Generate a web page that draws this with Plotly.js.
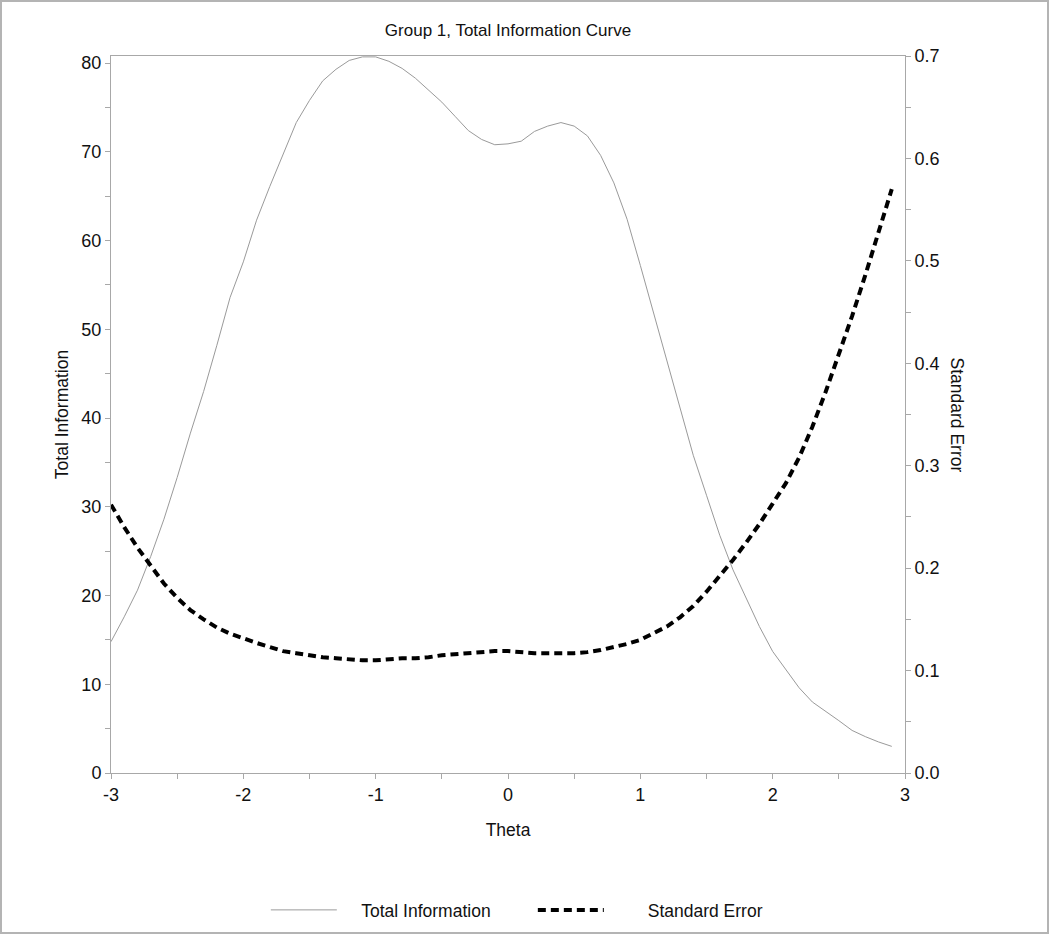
<!DOCTYPE html>
<html>
<head>
<meta charset="utf-8">
<script src="https://cdn.plot.ly/plotly-3.0.1.min.js"></script>
<style>
html,body{margin:0;padding:0;background:#fff;}
#wrap{position:relative;width:1050px;height:937px;}
#chart{position:absolute;left:0;top:0;width:1050px;height:937px;}
#frame{position:absolute;left:0;top:0;width:1049px;height:934px;box-sizing:border-box;border:2px solid #b4b4b4;pointer-events:none;}
</style>
</head>
<body>
<div id="wrap"><div id="chart"></div><div id="frame"></div></div>
<script>
// Data
var theta = [-3.0,-2.9,-2.8,-2.7,-2.6,-2.5,-2.4,-2.3,-2.2,-2.1,
             -2.0,-1.9,-1.8,-1.7,-1.6,-1.5,-1.4,-1.3,-1.2,-1.1,
             -1.0,-0.9,-0.8,-0.7,-0.6,-0.5,-0.4,-0.3,-0.2,-0.1,
              0.0, 0.1, 0.2, 0.3, 0.4, 0.5, 0.6, 0.7, 0.8, 0.9,
              1.0, 1.1, 1.2, 1.3, 1.4, 1.5, 1.6, 1.7, 1.8, 1.9,
              2.0, 2.1, 2.2, 2.3, 2.4, 2.5, 2.6, 2.7, 2.8, 2.9];
var totalInformation = [14.8,17.6,20.6,24.4,28.6,33.3,38.3,43.0,48.2,53.6,
                        57.6,62.3,66.1,69.8,73.3,75.8,78.0,79.3,80.3,80.7,
                        80.7,80.2,79.4,78.3,77.0,75.6,74.0,72.4,71.4,70.8,
                        70.9,71.2,72.3,72.9,73.3,72.9,71.8,69.6,66.5,62.4,
                        57.2,51.8,46.3,41.0,35.8,31.3,26.8,22.9,19.6,16.5,
                        13.7,11.6,9.6,8.0,7.0,5.9,4.8,4.1,3.5,3.0];
var standardError = [0.262,0.240,0.220,0.202,0.185,0.171,0.159,0.150,0.142,0.136,
                     0.131,0.127,0.123,0.119,0.117,0.115,0.113,0.112,0.111,0.110,
                     0.110,0.111,0.112,0.112,0.113,0.115,0.116,0.117,0.118,0.119,
                     0.119,0.118,0.117,0.117,0.117,0.117,0.118,0.120,0.123,0.126,
                     0.130,0.136,0.143,0.152,0.163,0.177,0.192,0.208,0.225,0.243,
                     0.263,0.283,0.308,0.338,0.372,0.408,0.446,0.486,0.527,0.570];
var xTickVals = [-3,-2,-1,0,1,2,3];
var xTickText = ['-3','-2','-1','0','1','2','3'];
var seriesNames = ['Total Information','Standard Error'];
var chartTitle = 'Group 1, Total Information Curve';
var xTitle = 'Theta';
var yTitle = 'Total Information';
var y2Title = 'Standard Error';

var axisColor = '#a8a8a8';
var fontFam = 'Liberation Sans, Arial, sans-serif';
var gap1 = '\u00a0\u00a0\u00a0\u00a0';
var gap2 = '\u00a0\u00a0\u00a0\u00a0\u00a0\u00a0\u00a0\u00a0';

var traces = [
  {x: theta, y: totalInformation, name: gap1 + seriesNames[0], type: 'scatter', mode: 'lines',
   line: {color: '#9a9a9a', width: 1}, xaxis: 'x', yaxis: 'y'},
  {x: theta, y: standardError, name: gap2 + seriesNames[1], type: 'scatter', mode: 'lines',
   line: {color: '#000000', width: 4, dash: '8px,5px'}, xaxis: 'x', yaxis: 'y2'}
];

var tickFont = {family: fontFam, size: 18, color: '#111'};
var layout = {
  width: 1050, height: 937,
  margin: {l: 111, r: 145, t: 56, b: 164, autoexpand: false},
  paper_bgcolor: 'rgba(0,0,0,0)', plot_bgcolor: '#ffffff',
  font: {family: fontFam, color: '#111'},
  title: {text: chartTitle, font: {family: fontFam, size: 17, color: '#111'},
          x: 508/1050, xanchor: 'center', y: 1 - 30/937, yanchor: 'middle', yref: 'container'},
  showlegend: true,
  legend: {orientation: 'h', x: 0.195, xanchor: 'left', y: 1 - 910/937, yanchor: 'middle', yref: 'container',
           font: {family: fontFam, size: 17.5, color: '#111'}, itemwidth: 66,
           entrywidth: 186, entrywidthmode: 'pixels', bgcolor: 'rgba(0,0,0,0)'},
  xaxis: {range: [-3, 3], tickvals: xTickVals, ticktext: xTickText, ticks: 'outside', ticklen: 5,
          tickcolor: axisColor, showline: true, linecolor: axisColor, linewidth: 1, mirror: true,
          showgrid: false, zeroline: false, tickfont: tickFont, automargin: false,
          minor: {dtick: 0.5, ticks: 'outside', ticklen: 5, tickcolor: axisColor, showgrid: false},
          title: {text: xTitle, font: {family: fontFam, size: 17.5, color: '#111'}, standoff: 20}},
  xaxis2: {range: [-3, 3], overlaying: 'x', anchor: 'y', side: 'bottom', dtick: 0.5, tick0: -3,
           ticks: 'inside', ticklen: 5, tickcolor: axisColor, showticklabels: false,
           showline: false, showgrid: false, zeroline: false},
  yaxis: {range: [0, 80.8], dtick: 10, ticks: 'outside', ticklen: 5, tickcolor: axisColor,
          showline: true, linecolor: axisColor, linewidth: 1, showgrid: false, zeroline: false,
          tickfont: tickFont, automargin: false,
          minor: {dtick: 5, ticks: 'outside', ticklen: 5, tickcolor: axisColor, showgrid: false},
          title: {text: yTitle, font: {family: fontFam, size: 17.5, color: '#111'}, standoff: 8}},
  yaxis3: {range: [0, 80.8], dtick: 5, overlaying: 'y', anchor: 'x', side: 'left',
           ticks: 'inside', ticklen: 5, tickcolor: axisColor, showticklabels: false,
           showline: false, showgrid: false, zeroline: false},
  yaxis2: {range: [0, 0.7], dtick: 0.1, tickformat: '.1f', overlaying: 'y', side: 'right', anchor: 'x',
           ticks: 'outside', ticklen: 5, tickcolor: axisColor, showline: true, linecolor: axisColor,
           linewidth: 1, showgrid: false, zeroline: false, tickfont: tickFont, automargin: false,
           minor: {dtick: 0.05, ticks: 'outside', ticklen: 5, tickcolor: axisColor, showgrid: false}},
  yaxis4: {range: [0, 0.7], dtick: 0.05, overlaying: 'y', anchor: 'x', side: 'right',
           ticks: 'inside', ticklen: 5, tickcolor: axisColor, showticklabels: false,
           showline: false, showgrid: false, zeroline: false},
  annotations: [
    {text: y2Title, textangle: 90, xref: 'paper', yref: 'paper', x: (957-111)/794, y: 0.5,
     xanchor: 'center', yanchor: 'middle', showarrow: false,
     font: {family: fontFam, size: 17.5, color: '#111'}}
  ]
};

Plotly.newPlot('chart', traces, layout, {staticPlot: true, displayModeBar: false});
</script>
</body>
</html>
